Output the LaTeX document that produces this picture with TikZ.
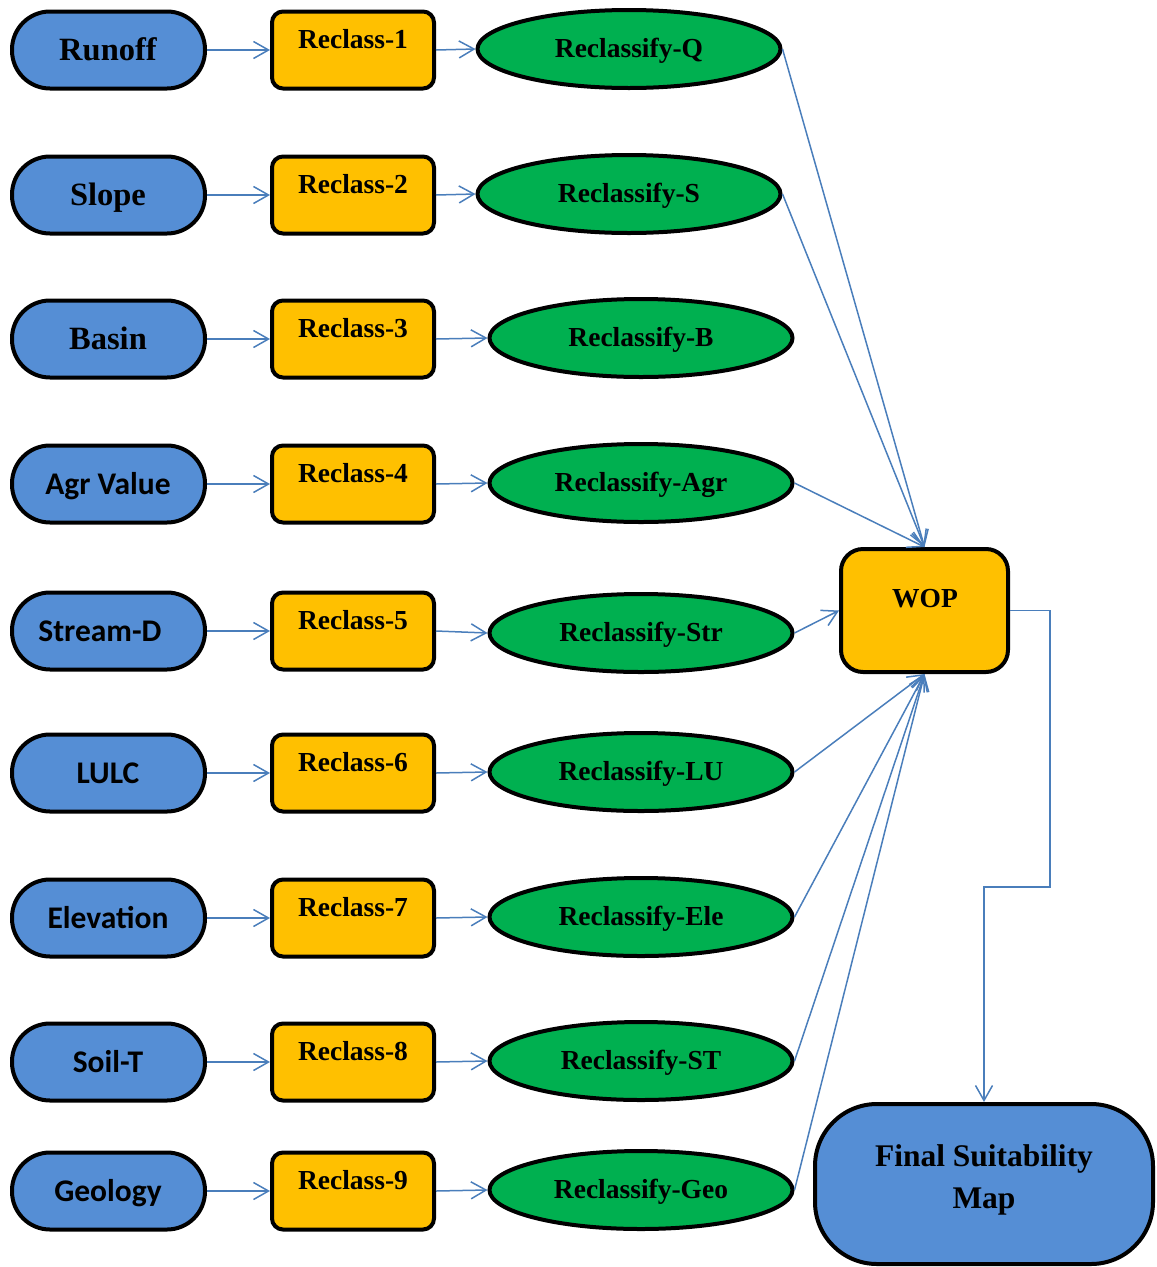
\documentclass[tikz,border=0pt]{standalone}
\usepackage{fontspec}
\setmainfont{Liberation Serif}
\newfontfamily\calfont{Carlito}
\usetikzlibrary{arrows.meta,shapes.geometric}
\definecolor{bfill}{RGB}{85,142,213}
\definecolor{yfill}{RGB}{255,192,0}
\definecolor{gfill}{RGB}{0,176,80}
\definecolor{lcol}{RGB}{74,126,187}
\newcommand{\serifbig}{\rmfamily\bfseries\fontsize{32.5}{38}\selectfont}
\newcommand{\calbig}{\calfont\bfseries\fontsize{31.5}{36}\selectfont}
\begin{document}
\begin{tikzpicture}[x=1pt,y=-1pt,
  inbox/.style={draw=black,line width=4pt,fill=bfill,rounded corners=38pt,minimum width=193pt,minimum height=77pt,inner sep=0pt},
  rbox/.style={draw=black,line width=4pt,fill=yfill,rounded corners=11pt,minimum width=162pt,minimum height=77pt,inner sep=0pt},
  ebox/.style={draw=black,line width=4pt,fill=gfill,ellipse,minimum width=303pt,minimum height=78pt,inner sep=0pt},
  wopbox/.style={draw=black,line width=4pt,fill=yfill,rounded corners=22pt,minimum width=167pt,minimum height=123pt,inner sep=0pt},
  finbox/.style={draw=black,line width=4pt,fill=bfill,rounded corners=62pt,minimum width=338pt,minimum height=160pt,inner sep=0pt},
  lbl/.style={anchor=base,inner sep=0pt,text=black},
  rfont/.style={font=\rmfamily\bfseries\fontsize{27.5}{32}\selectfont},
  efont/.style={font=\rmfamily\bfseries\fontsize{27.5}{32}\selectfont},
  ffont/.style={font=\rmfamily\bfseries\fontsize{31.5}{36}\selectfont},
  conn/.style={draw=lcol,line width=1.5pt,-{Straight Barb[length=15pt,width=17pt]}}
]
\useasboundingbox (0,0) rectangle (1157,1267);

\foreach \i/\y/\ey/\ex/\lab/\ff/\lx/\el in {
1/50/49/629/Runoff/\serifbig/108/Q,
2/195/194/629/Slope/\serifbig/108/S,
3/339/338/641/Basin/\serifbig/108/B,
4/484/483/641/Agr Value/\calbig/108/Agr,
5/631/633/641/Stream-D/\calbig/100/Str,
6/773/772/641/LULC/\calbig/108/LU,
7/918/917/641/Elevation/\calbig/108/Ele,
8/1062/1061/641/Soil-T/\calbig/108/ST,
9/1191/1190/641/Geology/\calbig/108/Geo}
{
  \node[inbox] (b\i) at (108.5,\y) {};
  \node[lbl,font=\ff] (bt\i) at (\lx,\y+10) {\lab};
  \node[rbox] (r\i) at (353,\y) {};
  \node[lbl,rfont] (rt\i) at (353,\y-1.5) {Reclass-\i};
  \node[ebox] (e\i) at (\ex,\ey) {};
  \node[lbl,efont] (et\i) at (\ex,\ey+8) {Reclassify-\el};
  \draw[conn] (b\i.east) -- (r\i.west);
  \draw[conn] (r\i.east) -- (e\i.west);
}

\node[wopbox] (wop) at (924.5,610.5) {};
\node[lbl,rfont] (wopt) at (925,607) {WOP};

\node[finbox] (fin) at (984,1184) {};
\node[lbl,ffont] (fint1) at (984,1166) {Final Suitability};
\node[lbl,ffont] (fint2) at (984,1208) {Map};

\draw[conn] (e1.east) -- (wop.north);
\draw[conn] (e2.east) -- (wop.north);
\draw[conn] (e4.east) -- (wop.north);
\draw[conn] (e5.east) -- (wop.west);
\draw[conn] (e6.east) -- (wop.south);
\draw[conn] (e7.east) -- (wop.south);
\draw[conn] (e8.east) -- (wop.south);
\draw[conn] (e9.east) -- (wop.south);

\draw[conn] (wop.east) -| (1050,887) -| (fin.north);
\end{tikzpicture}
\end{document}
